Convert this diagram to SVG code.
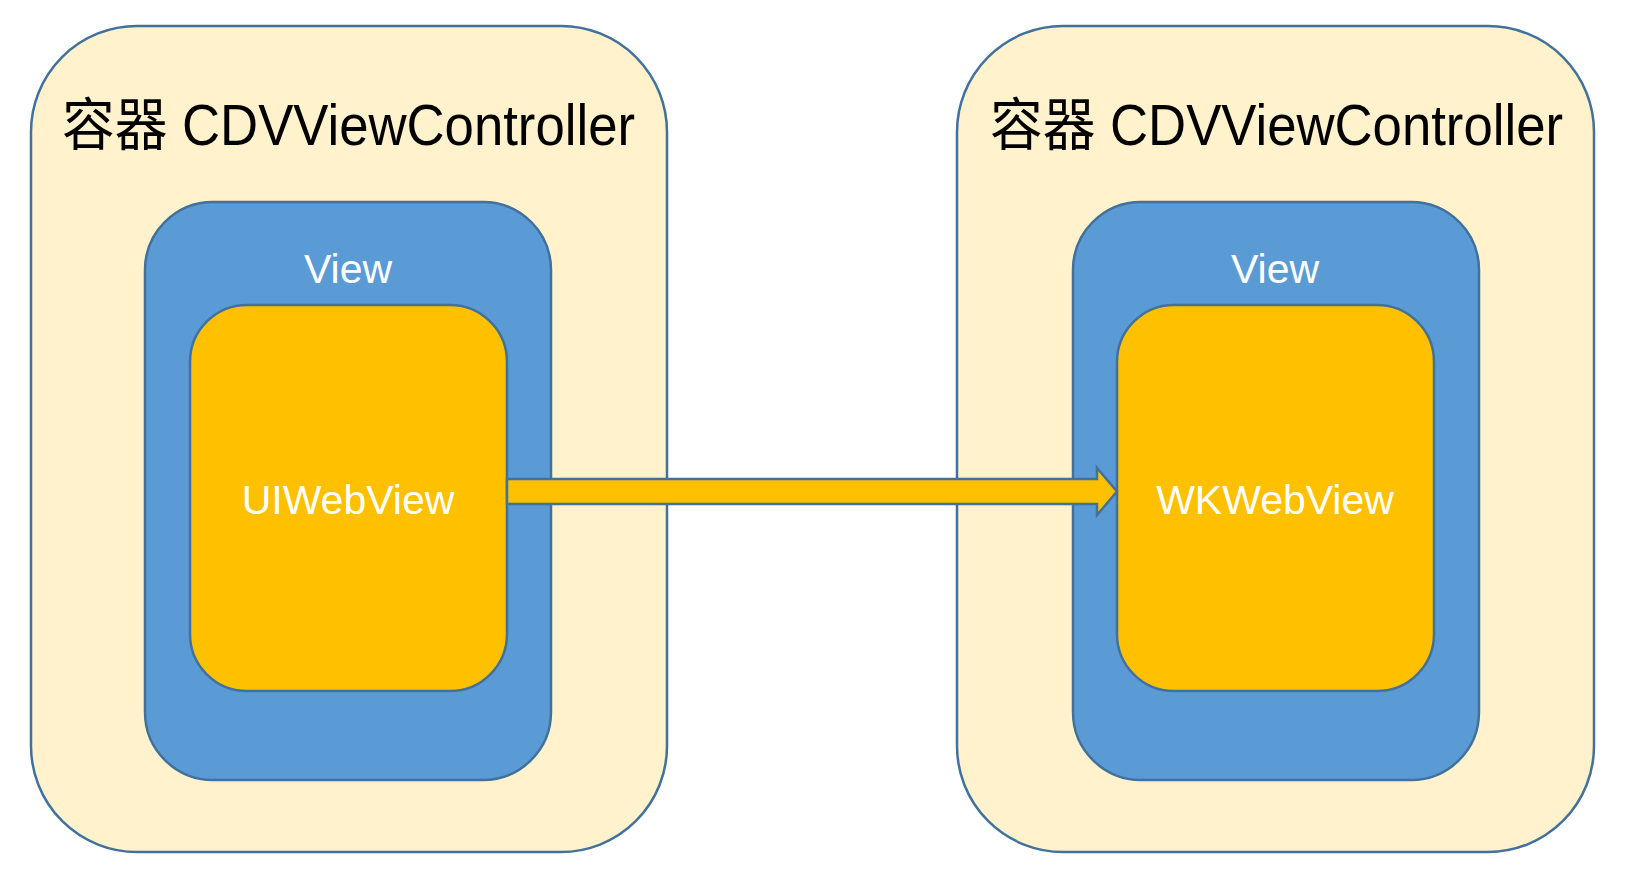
<svg xmlns="http://www.w3.org/2000/svg" width="1628" height="878" viewBox="0 0 1628 878">
<style>
.outer{fill:#FFF2CC;stroke:#41719C;stroke-width:2.5}
.view{fill:#5B9BD5;stroke:#41719C;stroke-width:2.5}
.web{fill:#FFC000;stroke:#41719C;stroke-width:2.5}
.title{font-family:"Liberation Sans","Noto Sans CJK SC",sans-serif;font-size:57px;fill:#000}
.lbl{font-family:"Liberation Sans",Arial,sans-serif;font-size:41px;fill:#fff;text-anchor:middle}
.arrow{fill:#FFC000;stroke:#41719C;stroke-width:2.5;stroke-linejoin:miter}
</style>
<g id="left-container">
<rect class="outer" x="31" y="26" width="636" height="826" rx="106" ry="106"/>
<text class="title" x="62" y="145" textLength="573" lengthAdjust="spacingAndGlyphs">容器 CDVViewController</text>
</g>
<g id="left-view">
<rect class="view" x="145" y="202" width="406" height="578" rx="68" ry="68"/>
<text class="lbl" x="348" y="283">View</text>
</g>
<g id="left-web">
<rect class="web" x="190" y="305" width="317" height="386" rx="57" ry="57"/>
<text class="lbl" x="348" y="514">UIWebView</text>
</g>
<g id="right-container">
<rect class="outer" x="957" y="26" width="637" height="826" rx="106" ry="106"/>
<text class="title" x="990" y="145" textLength="573" lengthAdjust="spacingAndGlyphs">容器 CDVViewController</text>
</g>
<g id="right-view">
<rect class="view" x="1073" y="202" width="406" height="578" rx="68" ry="68"/>
<text class="lbl" x="1275" y="283">View</text>
</g>
<g id="right-web">
<rect class="web" x="1117" y="305" width="317" height="386" rx="57" ry="57"/>
<text class="lbl" x="1275" y="514">WKWebView</text>
</g>
<g id="connectors">
<polygon class="arrow" points="507,479 1097,479 1097,468 1117,491.5 1097,515 1097,504 507,504"/>
</g>
</svg>
